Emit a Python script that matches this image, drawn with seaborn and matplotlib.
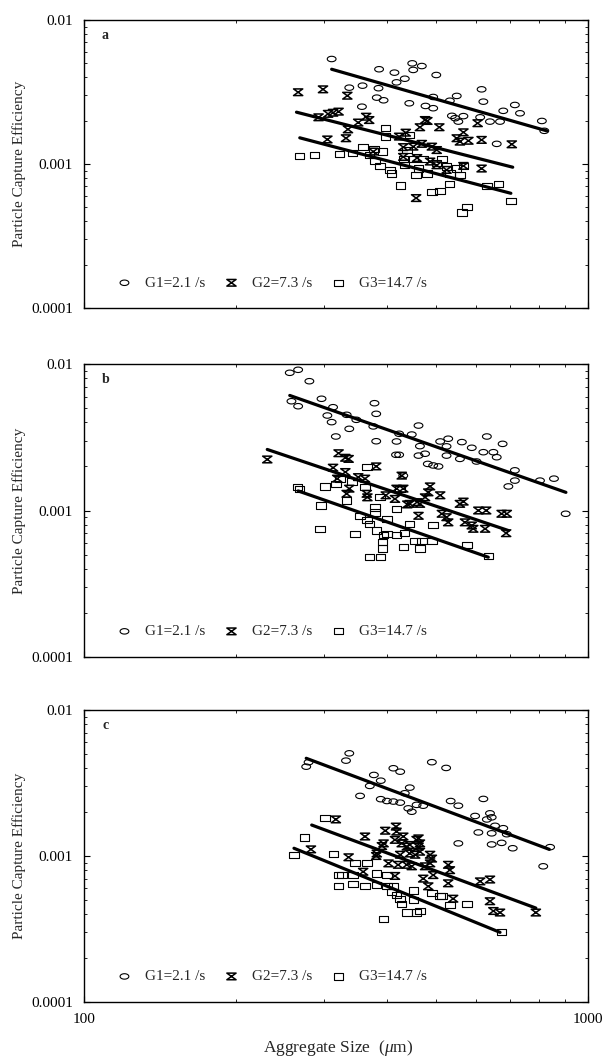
import numpy as np
import matplotlib
matplotlib.use("Agg")
import matplotlib.pyplot as plt
import seaborn as sns
from matplotlib.path import Path
from matplotlib.ticker import FixedLocator, FixedFormatter, NullFormatter

# ---------------- data ----------------
series_labels = ["G1=2.1 /s", "G2=7.3 /s", "G3=14.7 /s"]
panel_letters = ["a", "b", "c"]
x_tick_values = [100, 1000]
x_tick_labels = ["100", "1000"]
y_tick_values = [0.0001, 0.001, 0.01]
y_tick_labels = ["0.0001", "0.001", "0.01"]
x_minor = [200, 300, 400, 500, 600, 700, 800, 900]
y_minor = [0.0002, 0.0003, 0.0004, 0.0005, 0.0006, 0.0007, 0.0008, 0.0009,
           0.002, 0.003, 0.004, 0.005, 0.006, 0.007, 0.008, 0.009]

# panel a
a_g1_x = [310, 385, 413, 448, 450, 468, 500, 433, 417, 384, 357, 336, 381, 393, 442, 356, 476, 493,
          549, 615, 620, 537, 545, 566, 553, 611, 639, 659, 716, 733, 679, 669, 810, 819, 493, 532]
a_g1_y = [0.00536, 0.00455, 0.00431, 0.00500, 0.00450, 0.00479, 0.00415, 0.00391, 0.00369, 0.00336,
          0.00350, 0.00339, 0.00289, 0.00277, 0.00264, 0.00250, 0.00253, 0.00244, 0.00297, 0.00330,
          0.00271, 0.00216, 0.00208, 0.00215, 0.00197, 0.00211, 0.00197, 0.00138, 0.00257, 0.00225,
          0.00234, 0.00197, 0.00199, 0.00170, 0.00292, 0.00275]
a_g2_x = [266, 298, 333, 305, 312, 320, 292, 334, 350, 363, 368, 304, 331, 375, 422, 435, 430, 464, 480, 507,
          450, 468, 490, 501, 566, 549, 557, 579, 615, 604, 486, 501, 615, 456, 524, 566, 430, 458, 706, 475]
a_g2_y = [0.00315, 0.00330, 0.00298, 0.00223, 0.00227, 0.00231, 0.00211, 0.00174, 0.00194, 0.00213,
          0.00202, 0.00148, 0.00151, 0.00122, 0.00155, 0.00165, 0.00131, 0.00180, 0.00199, 0.00180,
          0.00132, 0.00138, 0.00132, 0.00125, 0.00166, 0.00151, 0.00143, 0.00145, 0.00147, 0.00192,
          0.00104, 0.00098, 0.00093, 0.00058, 0.00091, 0.00097, 0.00112, 0.00110, 0.00137, 0.00202]
a_g3_x = [268, 287, 321, 341, 358, 376, 391, 396, 396, 369, 378, 387, 405, 408, 430, 450, 471, 433, 461, 456,
          479, 501, 524, 549, 566, 532, 557, 531, 425, 490, 509, 575, 562, 443, 664, 630, 703, 513, 437]
a_g3_y = [0.00114, 0.00115, 0.00117, 0.00119, 0.00132, 0.00127, 0.00122, 0.00177, 0.00155, 0.00115,
          0.00105, 0.00097, 0.00091, 0.00086, 0.00109, 0.00108, 0.00109, 0.00098, 0.00093, 0.00084,
          0.00086, 0.00101, 0.00096, 0.00093, 0.00097, 0.00086, 0.00084, 0.00073, 0.00071, 0.00064,
          0.00065, 0.00050, 0.00046, 0.00159, 0.00073, 0.00070, 0.00055, 0.00108, 0.00125]
a_fit_x = [[310, 828], [264, 709], [268, 703]]
a_fit_y = [[0.00455, 0.00170], [0.00229, 0.00095], [0.00152, 0.000626]]

# panel b
b_g1_x = [256, 266, 280, 258, 266, 296, 312, 304, 310, 336, 332, 347, 377, 380, 375, 316, 380, 417, 422, 416,
          422, 430, 461, 447, 464, 461, 475, 481, 493, 505, 509, 528, 524, 524, 562, 588, 557, 630, 620, 649,
          659, 677, 601, 716, 716, 695, 803, 856, 903]
b_g1_y = [0.00871, 0.00913, 0.00763, 0.00557, 0.00515, 0.00579, 0.00507, 0.00445, 0.00401, 0.00361,
          0.00450, 0.00416, 0.00540, 0.00457, 0.00375, 0.00320, 0.00297, 0.00296, 0.00334, 0.00240,
          0.00240, 0.00173, 0.00380, 0.00330, 0.00275, 0.00237, 0.00244, 0.00208, 0.00203, 0.00200,
          0.00296, 0.00309, 0.00274, 0.00237, 0.00293, 0.00268, 0.00225, 0.00320, 0.00250, 0.00250,
          0.00231, 0.00285, 0.00216, 0.00188, 0.00160, 0.00146, 0.00160, 0.00165, 0.00095]
b_g2_x = [231, 320, 330, 335, 312, 330, 318, 350, 361, 380, 336, 332, 364, 365, 397, 414, 417, 430, 427, 438,
          486, 482, 509, 475, 443, 458, 464, 557, 566, 513, 524, 528, 606, 628, 674, 690, 570, 588, 592, 625,
          688, 461]
b_g2_y = [0.00223, 0.00246, 0.00229, 0.00225, 0.00196, 0.00183, 0.00165, 0.00169, 0.00165, 0.00200,
          0.00141, 0.00130, 0.00130, 0.00123, 0.00127, 0.00120, 0.00141, 0.00141, 0.00173, 0.00110,
          0.00146, 0.00133, 0.00127, 0.00123, 0.00111, 0.00114, 0.00111, 0.00111, 0.00115, 0.00095,
          0.00090, 0.00083, 0.00100, 0.00100, 0.00095, 0.00095, 0.00083, 0.00079, 0.00075, 0.00075,
          0.00070, 0.00092]
b_g3_x = [265, 268, 295, 301, 316, 322, 340, 364, 361, 387, 332, 294, 345, 353, 364, 369, 378, 378, 399, 381,
          393, 399, 417, 391, 391, 369, 388, 430, 433, 417, 424, 443, 493, 454, 468, 464, 490, 575, 634]
b_g3_y = [0.00144, 0.00141, 0.00108, 0.00146, 0.00152, 0.00164, 0.00158, 0.00198, 0.00144, 0.00123,
          0.00117, 0.00075, 0.00069, 0.00092, 0.00086, 0.00081, 0.00105, 0.00097, 0.00088, 0.00073,
          0.00068, 0.00069, 0.00068, 0.00061, 0.00055, 0.00048, 0.00048, 0.00056, 0.00070, 0.00103,
          0.00141, 0.00081, 0.00080, 0.00062, 0.00062, 0.00055, 0.00062, 0.00058, 0.00049]
b_fit_x = [[256, 904], [231, 695], [266, 634]]
b_fit_y = [[0.00610, 0.00133], [0.00261, 0.00073], [0.00136, 0.00048]]

# panel c
c_g1_x = [276, 279, 336, 331, 376, 388, 411, 424, 369, 353, 388, 399, 411, 424, 443, 433, 440, 447, 490, 523,
          457, 471, 534, 553, 620, 597, 639, 630, 644, 654, 679, 690, 606, 644, 553, 644, 674, 709, 841, 815]
c_g1_y = [0.00409, 0.00439, 0.00505, 0.00450, 0.00359, 0.00328, 0.00399, 0.00378, 0.00302, 0.00258,
          0.00245, 0.00238, 0.00236, 0.00232, 0.00294, 0.00269, 0.00212, 0.00201, 0.00439, 0.00401,
          0.00224, 0.00221, 0.00238, 0.00221, 0.00246, 0.00188, 0.00196, 0.00178, 0.00184, 0.00161,
          0.00155, 0.00141, 0.00145, 0.00143, 0.00122, 0.00120, 0.00123, 0.00113, 0.00115, 0.00085]
c_g2_x = [316, 282, 335, 361, 396, 416, 417, 430, 393, 390, 414, 427, 437, 443, 457, 381, 380, 424, 443, 420,
          437, 447, 402, 414, 358, 461, 464, 461, 454, 464, 486, 490, 486, 475, 528, 532, 493, 471, 482, 528,
          540, 611, 639, 639, 649, 669, 788]
c_g2_y = [0.00178, 0.00111, 0.00098, 0.00136, 0.00149, 0.00159, 0.00147, 0.00136, 0.00122, 0.00117,
          0.00129, 0.00122, 0.00116, 0.00119, 0.00129, 0.00104, 0.00100, 0.00102, 0.00104, 0.00087,
          0.00087, 0.00085, 0.00089, 0.00073, 0.00078, 0.00132, 0.00122, 0.00116, 0.00102, 0.00107,
          0.00102, 0.00096, 0.00089, 0.00085, 0.00087, 0.00080, 0.00074, 0.00070, 0.00062, 0.00065,
          0.00051, 0.00067, 0.00069, 0.00049, 0.00042, 0.00041, 0.00041]
c_g3_x = [301, 274, 261, 313, 345, 364, 320, 325, 342, 320, 342, 361, 381, 399, 381, 399, 411, 417, 424, 427,
          408, 450, 450, 437, 457, 393, 490, 509, 513, 532, 575, 464, 674]
c_g3_y = [0.00181, 0.00134, 0.00102, 0.00103, 0.00089, 0.00090, 0.00074, 0.00074, 0.00074, 0.00062,
          0.00064, 0.00062, 0.00076, 0.00074, 0.00063, 0.00062, 0.00062, 0.00054, 0.00051, 0.00047,
          0.00057, 0.00058, 0.00050, 0.00041, 0.00041, 0.00037, 0.00056, 0.00053, 0.00053, 0.00046,
          0.00047, 0.00042, 0.00030]
c_fit_x = [[276, 838], [283, 788], [261, 669]]
c_fit_y = [[0.00467, 0.00111], [0.00163, 0.00044], [0.00113, 0.00030]]

panels = [
    ([(a_g1_x, a_g1_y), (a_g2_x, a_g2_y), (a_g3_x, a_g3_y)], a_fit_x, a_fit_y),
    ([(b_g1_x, b_g1_y), (b_g2_x, b_g2_y), (b_g3_x, b_g3_y)], b_fit_x, b_fit_y),
    ([(c_g1_x, c_g1_y), (c_g2_x, c_g2_y), (c_g3_x, c_g3_y)], c_fit_x, c_fit_y),
]

# ---------------- style ----------------
sns.set_theme(style="ticks")
plt.rcParams["font.family"] = ["Liberation Serif", "DejaVu Serif"]
plt.rcParams["mathtext.fontset"] = "custom"
plt.rcParams["mathtext.rm"] = "Liberation Serif"
plt.rcParams["mathtext.it"] = "Liberation Serif:italic"
plt.rcParams["axes.linewidth"] = 1.0
plt.rcParams["axes.edgecolor"] = "black"

t = np.linspace(0, 2 * np.pi, 41)
ellipse_marker = Path(np.column_stack([np.cos(t), 0.62 * np.sin(t)]), closed=True)
bowtie_marker = Path([(-1, 0.72), (1, 0.72), (-1, -0.72), (1, -0.72), (-1, 0.72)], closed=True)
square_marker = Path([(-1, -0.66), (1, -0.66), (1, 0.66), (-1, 0.66), (-1, -0.66)], closed=True)
markers = [ellipse_marker, bowtie_marker, square_marker]
marker_sizes = [40, 44, 46]
marker_lw = [0.8, 1.1, 0.8]

W, H = 606, 1057
fig = plt.figure(figsize=(W / 100, H / 100), dpi=100)
# axes rectangles in pixels: (left, top, right, bottom)
boxes = [(84, 20, 588, 308), (84, 364, 588, 657), (84, 710, 588, 1002)]

for i, ((groups, fit_x, fit_y), box) in enumerate(zip(panels, boxes)):
    l, tp, r, b = box
    ax = fig.add_axes([l / W, 1 - b / H, (r - l) / W, (b - tp) / H])
    ax.set_xscale("log")
    ax.set_yscale("log")
    for k, (gx, gy) in enumerate(groups):
        sns.scatterplot(x=gx, y=gy, ax=ax, marker=markers[k], s=marker_sizes[k],
                        color="black", edgecolor="black", linewidth=marker_lw[k],
                        label=series_labels[k], zorder=3)
        coll = ax.collections[-1]
        coll.set_facecolor("none")
        coll.set_edgecolor("black")
    for k in range(3):
        sns.lineplot(x=fit_x[k], y=fit_y[k], ax=ax, color="black", linewidth=2.3,
                     legend=False, zorder=4)
    ax.set_xlim(100, 1000)
    ax.set_ylim(0.0001, 0.01)

    ax.xaxis.set_major_locator(FixedLocator(x_tick_values))
    ax.xaxis.set_major_formatter(FixedFormatter(x_tick_labels))
    ax.xaxis.set_minor_locator(FixedLocator(x_minor))
    ax.xaxis.set_minor_formatter(NullFormatter())
    ax.yaxis.set_major_locator(FixedLocator(y_tick_values))
    ax.yaxis.set_major_formatter(FixedFormatter(y_tick_labels))
    ax.yaxis.set_minor_locator(FixedLocator(y_minor))
    ax.yaxis.set_minor_formatter(NullFormatter())
    ax.tick_params(which="both", direction="in", top=True, right=True, colors="black")
    ax.tick_params(which="major", length=4, width=0.8, pad=8, labelsize=11)
    ax.tick_params(which="minor", length=2.5, width=0.6)
    if i < 2:
        ax.tick_params(labelbottom=False)
        ax.set_xlabel("")
    else:
        ax.set_xlabel(r"Aggregate Size  ($\mathit{\mu}$m)", fontsize=12.5)
        ax.xaxis.set_label_coords(0.505, -0.125)

    ax.set_ylabel("Particle Capture Efficiency", fontsize=11)
    ax.yaxis.set_label_coords(-0.115, 0.5)

    ax.text(0.042, 0.947, panel_letters[i], transform=ax.transAxes, fontsize=10,
            fontweight="bold", ha="center", va="center")

    ax.legend(loc="center left", bbox_to_anchor=(0.053, 0.087), ncol=3, frameon=False,
              fontsize=11, handlelength=1.0, handletextpad=0.83, columnspacing=1.23,
              borderpad=0.4, borderaxespad=0.0, markerscale=1.0)
    for sp in ax.spines.values():
        sp.set_visible(True)
        sp.set_color("black")

fig.savefig("out.png", dpi=100, facecolor="white")
